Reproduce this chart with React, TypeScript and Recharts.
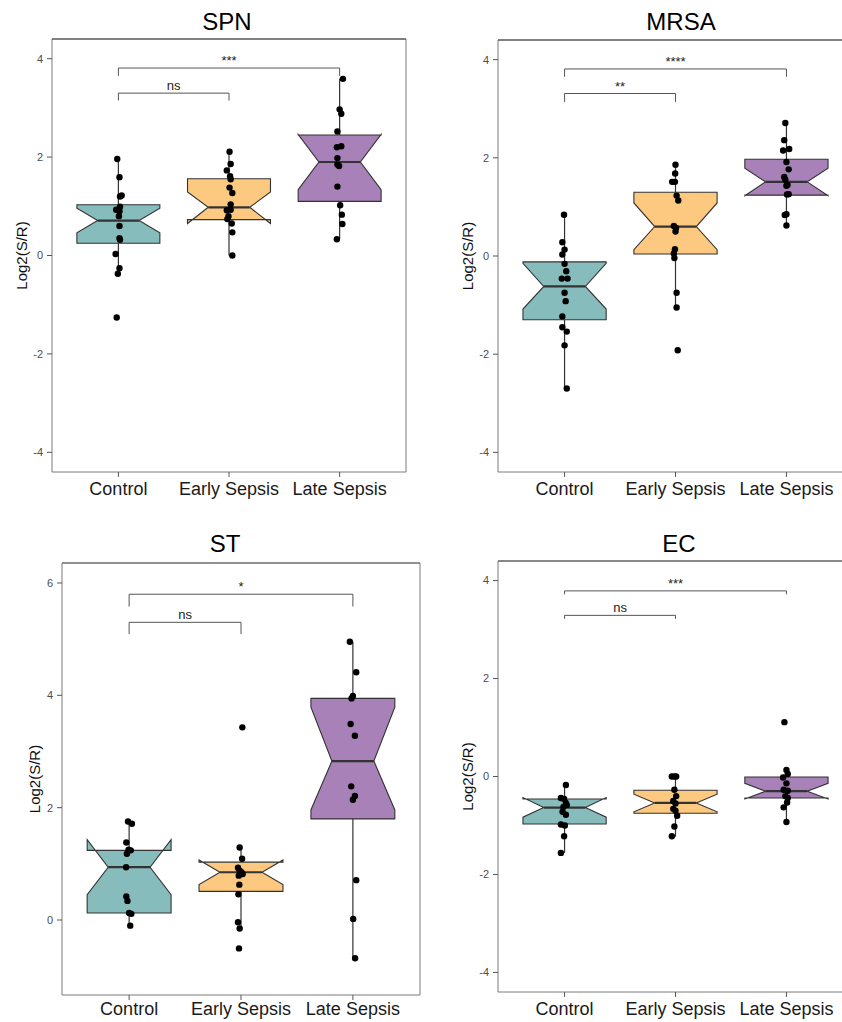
import React from "react";
import { ScatterChart, Scatter, XAxis, YAxis, ReferenceArea, ReferenceLine } from "recharts";

const GROUPS = ["Control", "Early Sepsis", "Late Sepsis"];
const FILLS = ["#86bcbb", "#fdc880", "#a781b7"];
const BOX_HALF = 0.375;

// box stats: [whisker low, q1, notch low, median, notch high, q3, whisker high]
const SPN_BOX = [
  [-0.37, 0.25, 0.46, 0.71, 0.96, 1.03, 1.97],
  [0.0, 0.73, 0.65, 0.98, 1.29, 1.56, 2.11],
  [0.33, 1.1, 1.34, 1.9, 2.46, 2.45, 3.59],
];
const MRSA_BOX = [
  [-2.7, -1.3, -1.08, -0.62, -0.15, -0.12, 0.84],
  [-1.05, 0.04, 0.13, 0.6, 1.08, 1.3, 1.86],
  [0.62, 1.24, 1.23, 1.51, 1.79, 1.97, 2.71],
];
const ST_BOX = [
  [-0.1, 0.125, 0.45, 0.94, 1.43, 1.24, 1.755],
  [-0.14, 0.51, 0.63, 0.85, 1.07, 1.03, 1.29],
  [-0.68, 1.8, 1.96, 2.83, 3.79, 3.945, 4.955],
];
const EC_BOX = [
  [-1.56, -0.97, -0.83, -0.635, -0.43, -0.46, -0.175],
  [-1.23, -0.75, -0.72, -0.54, -0.36, -0.28, 0.0],
  [-0.93, -0.44, -0.46, -0.3, -0.14, -0.01, 0.135],
];

// points: [value, jitter]
const SPN_CONTROL = [[1.96, -0.01], [1.59, 0.01], [1.22, 0.03], [1.2, 0.015], [0.99, 0.015], [0.93, -0.02], [0.9, 0.01], [0.8, 0.005], [0.6, 0.01], [0.35, 0.01], [0.32, 0.015], [0.03, -0.025], [-0.26, 0.01], [-0.37, -0.005], [-1.26, -0.015]];
const SPN_EARLY = [[2.11, 0.005], [1.86, 0.015], [1.73, -0.02], [1.61, 0.01], [1.55, 0.015], [1.38, 0.005], [1.27, 0.03], [1.04, 0.015], [0.92, -0.02], [0.93, 0.015], [0.8, -0.005], [0.74, -0.015], [0.65, 0.025], [0.47, 0.03], [0.0, 0.03]];
const SPN_LATE = [[3.59, 0.03], [2.97, 0.0], [2.88, 0.015], [2.52, -0.02], [2.2, -0.025], [2.22, 0.015], [1.98, -0.02], [1.85, -0.02], [1.82, -0.005], [1.4, -0.02], [1.02, 0.005], [0.83, 0.02], [0.64, 0.025], [0.33, -0.025]];

const MRSA_CONTROL = [[0.84, -0.005], [0.28, -0.02], [0.13, 0.0], [0.03, -0.02], [-0.16, 0.0], [-0.31, 0.015], [-0.46, -0.025], [-0.46, 0.027], [-0.75, 0.0], [-0.92, 0.01], [-1.23, -0.02], [-1.45, -0.02], [-1.54, 0.02], [-1.82, 0.0], [-2.7, 0.02]];
const MRSA_EARLY = [[1.86, 0.0], [1.68, -0.003], [1.51, -0.03], [1.51, -0.005], [1.23, 0.01], [1.13, 0.025], [0.61, -0.015], [0.57, 0.005], [0.5, 0.0], [0.14, -0.005], [0.05, -0.015], [-0.04, -0.01], [-0.75, 0.01], [-1.05, 0.01], [-1.92, 0.02]];
const MRSA_LATE = [[2.71, -0.01], [2.36, -0.02], [2.15, -0.03], [2.18, 0.025], [1.915, 0.0], [1.765, 0.02], [1.61, -0.02], [1.555, -0.01], [1.43, 0.0], [1.45, 0.01], [1.255, 0.005], [1.26, 0.02], [0.835, -0.015], [0.85, 0.0], [0.62, 0.0]];

const ST_CONTROL = [[1.755, -0.01], [1.715, 0.025], [1.38, -0.025], [1.25, -0.005], [1.24, 0.015], [1.18, -0.02], [0.94, -0.027], [0.42, -0.025], [0.34, -0.015], [0.125, 0.0], [0.11, 0.02], [-0.1, 0.01]];
const ST_EARLY = [[3.43, 0.012], [1.29, -0.012], [1.09, 0.01], [0.93, -0.027], [0.88, -0.012], [0.85, 0.004], [0.82, 0.015], [0.79, -0.02], [0.63, -0.015], [0.46, -0.023], [-0.04, -0.027], [-0.15, -0.012], [-0.505, -0.018]];
const ST_LATE = [[4.955, -0.027], [4.41, 0.03], [3.945, -0.012], [3.99, 0.0], [3.49, -0.02], [3.28, 0.018], [2.38, -0.015], [2.14, 0.0], [2.21, 0.018], [0.71, 0.03], [0.02, 0.003], [-0.68, 0.02]];

const EC_CONTROL = [[-0.175, 0.012], [-0.44, -0.033], [-0.46, -0.004], [-0.54, 0.012], [-0.58, 0.02], [-0.62, -0.01], [-0.72, -0.018], [-0.78, 0.012], [-0.98, -0.033], [-1.0, 0.003], [-1.22, -0.004], [-1.56, -0.033]];
const EC_EARLY = [[0.0, -0.033], [0.0, -0.01], [0.0, 0.006], [-0.27, -0.01], [-0.4, 0.006], [-0.5, -0.02], [-0.55, 0.0], [-0.66, -0.02], [-0.7, 0.0], [-0.8, 0.015], [-1.02, -0.01], [-1.22, -0.033]];
const EC_LATE = [[1.11, -0.018], [0.135, 0.0], [0.05, 0.012], [-0.02, -0.03], [-0.14, 0.0], [-0.27, -0.025], [-0.29, 0.012], [-0.4, -0.01], [-0.44, 0.012], [-0.53, 0.006], [-0.63, -0.025], [-0.93, 0.0]];

// brackets: [from, to, height, tip end, label]
const SPN_BRACKETS = [[1, 2, 3.3, 3.15, "ns"], [1, 3, 3.81, 3.65, "***"]];
const MRSA_BRACKETS = [[1, 2, 3.31, 3.14, "**"], [1, 3, 3.81, 3.65, "****"]];
const ST_BRACKETS = [[1, 2, 5.3, 5.09, "ns"], [1, 3, 5.8, 5.58, "*"]];
const EC_BRACKETS = [[1, 2, 3.29, 3.22, "ns"], [1, 3, 3.79, 3.72, "***"]];

const FIVE_TICKS = [-4, -2, 0, 2, 4];
const ST_TICKS = [0, 2, 4, 6];

function notchShape(stats: number[], fill: string) {
  return (p: any) => {
    const { x, y, width, height } = p;
    const [, q1, nlo, med, nhi, q3] = stats;
    const k = height / (q3 - q1);
    const py = (v: number) => y + (q3 - v) * k;
    const l = x;
    const r = x + width;
    const cx = x + width / 2;
    const nq = width / 4;
    const pts = [
      [l, py(q3)], [l, py(nhi)], [cx - nq, py(med)], [l, py(nlo)], [l, py(q1)],
      [r, py(q1)], [r, py(nlo)], [cx + nq, py(med)], [r, py(nhi)], [r, py(q3)],
    ];
    return (
      <g>
        <polygon points={pts.map((d) => d.join(",")).join(" ")} fill={fill} stroke="#333" strokeWidth={1.1} />
        <line x1={cx - nq} x2={cx + nq} y1={py(med)} y2={py(med)} stroke="#333" strokeWidth={2.2} />
      </g>
    );
  };
}

function Panel({ title, boxes, points, brackets, domain, ticks, frame }: any) {
  const data = points.flatMap((grp: number[][], gi: number) =>
    grp.map(([v, j]) => ({ x: gi + 1 + j, y: v }))
  );
  const { left, top, width, height, margin, xAxisHeight, tickMargin, labelDx, titleX, titleBaseline, topStroke } = frame;

  return (
    <>
      <div style={{ position: "absolute", left, top }}>
        <ScatterChart width={width} height={height} margin={margin}>
          <XAxis
            type="number"
            dataKey="x"
            domain={[0.4, 3.6]}
            ticks={[1, 2, 3]}
            interval={0}
            allowDataOverflow
            tickFormatter={(v) => GROUPS[v - 1]}
            height={xAxisHeight}
            axisLine={false}
            tickSize={5}
            tickMargin={tickMargin}
            tickLine={{ stroke: "#555" }}
            tick={{ fontSize: 18, fill: "#1a1a1a" }}
          />
          <YAxis
            type="number"
            dataKey="y"
            domain={domain}
            ticks={ticks}
            allowDataOverflow
            width={52}
            axisLine={false}
            tickSize={5}
            tickMargin={4}
            tickLine={{ stroke: "#555" }}
            tick={{ fontSize: 11, fill: "#4d4d4d" }}
            label={{ value: "Log2(S/R)", angle: -90, position: "center", dx: labelDx, fontSize: 15, fill: "#111" }}
          />
          <ReferenceArea x1={0.4} x2={3.6} y1={domain[0]} y2={domain[1]} fill="none" stroke="#7a7a7a" strokeWidth={1} />
          <ReferenceLine y={domain[1]} stroke={topStroke} strokeWidth={1.2} />
          {boxes.map((s: number[], i: number) => (
            <ReferenceArea
              key={"box" + i}
              x1={i + 1 - BOX_HALF}
              x2={i + 1 + BOX_HALF}
              y1={s[1]}
              y2={s[5]}
              shape={notchShape(s, FILLS[i])}
            />
          ))}
          {boxes.map((s: number[], i: number) => (
            <ReferenceLine key={"wh" + i} segment={[{ x: i + 1, y: s[5] }, { x: i + 1, y: s[6] }]} stroke="#333" strokeWidth={1.2} />
          ))}
          {boxes.map((s: number[], i: number) => (
            <ReferenceLine key={"wl" + i} segment={[{ x: i + 1, y: s[0] }, { x: i + 1, y: s[1] }]} stroke="#333" strokeWidth={1.2} />
          ))}
          {brackets.map(([a, b, yv, tip, lab]: any, i: number) => (
            <ReferenceLine
              key={"bh" + i}
              segment={[{ x: a, y: yv }, { x: b, y: yv }]}
              stroke="#555"
              strokeWidth={1}
              label={{ value: lab, position: "top", offset: 3, fontSize: 13, fill: "#222" }}
            />
          ))}
          {brackets.map(([a, , yv, tip]: any, i: number) => (
            <ReferenceLine key={"ba" + i} segment={[{ x: a, y: tip }, { x: a, y: yv }]} stroke="#555" strokeWidth={1} />
          ))}
          {brackets.map(([, b, yv, tip]: any, i: number) => (
            <ReferenceLine key={"bb" + i} segment={[{ x: b, y: tip }, { x: b, y: yv }]} stroke="#555" strokeWidth={1} />
          ))}
          <Scatter
            data={data}
            isAnimationActive={false}
            shape={(p: any) => <circle cx={p.cx} cy={p.cy} r={3.2} fill="#000" />}
          />
        </ScatterChart>
      </div>
      <div
        style={{
          position: "absolute",
          left: titleX - 100,
          top: titleBaseline - 20.3,
          width: 200,
          textAlign: "center",
          fontSize: 24,
          lineHeight: "24px",
          color: "#000",
        }}
      >
        {title}
      </div>
    </>
  );
}

export default function App() {
  return (
    <div
      style={{
        position: "absolute",
        left: 0,
        top: 0,
        width: 842,
        height: 1022,
        overflow: "hidden",
        background: "#fff",
        fontFamily: "'Liberation Sans', Arial, sans-serif",
      }}
    >
      <Panel
        title="SPN"
        boxes={SPN_BOX}
        points={[SPN_CONTROL, SPN_EARLY, SPN_LATE]}
        brackets={SPN_BRACKETS}
        domain={[-4.4, 4.4]}
        ticks={FIVE_TICKS}
        frame={{ left: 0, top: 0, width: 421, height: 511, margin: { top: 39, right: 15, bottom: 0, left: 0 }, xAxisHeight: 39, tickMargin: 5, labelDx: -4, titleX: 227, titleBaseline: 30, topStroke: "#444" }}
      />
      <Panel
        title="MRSA"
        boxes={MRSA_BOX}
        points={[MRSA_CONTROL, MRSA_EARLY, MRSA_LATE]}
        brackets={MRSA_BRACKETS}
        domain={[-4.4, 4.4]}
        ticks={FIVE_TICKS}
        frame={{ left: 421, top: 0, width: 432, height: 511, margin: { top: 40, right: 0, bottom: 0, left: 25 }, xAxisHeight: 39, tickMargin: 5, labelDx: -4, titleX: 681, titleBaseline: 30, topStroke: "#444" }}
      />
      <Panel
        title="ST"
        boxes={ST_BOX}
        points={[ST_CONTROL, ST_EARLY, ST_LATE]}
        brackets={ST_BRACKETS}
        domain={[-1.335, 6.356]}
        ticks={ST_TICKS}
        frame={{ left: 0, top: 511, width: 421, height: 511, margin: { top: 52, right: 1, bottom: 0, left: 10 }, xAxisHeight: 27, tickMargin: 2, labelDx: -1, titleX: 225, titleBaseline: 552.7, topStroke: "#666" }}
      />
      <Panel
        title="EC"
        boxes={EC_BOX}
        points={[EC_CONTROL, EC_EARLY, EC_LATE]}
        brackets={EC_BRACKETS}
        domain={[-4.4, 4.4]}
        ticks={FIVE_TICKS}
        frame={{ left: 421, top: 511, width: 432, height: 511, margin: { top: 50, right: 0, bottom: 0, left: 25 }, xAxisHeight: 30, tickMargin: 5, labelDx: -4, titleX: 679, titleBaseline: 552.7, topStroke: "#555" }}
      />
    </div>
  );
}
